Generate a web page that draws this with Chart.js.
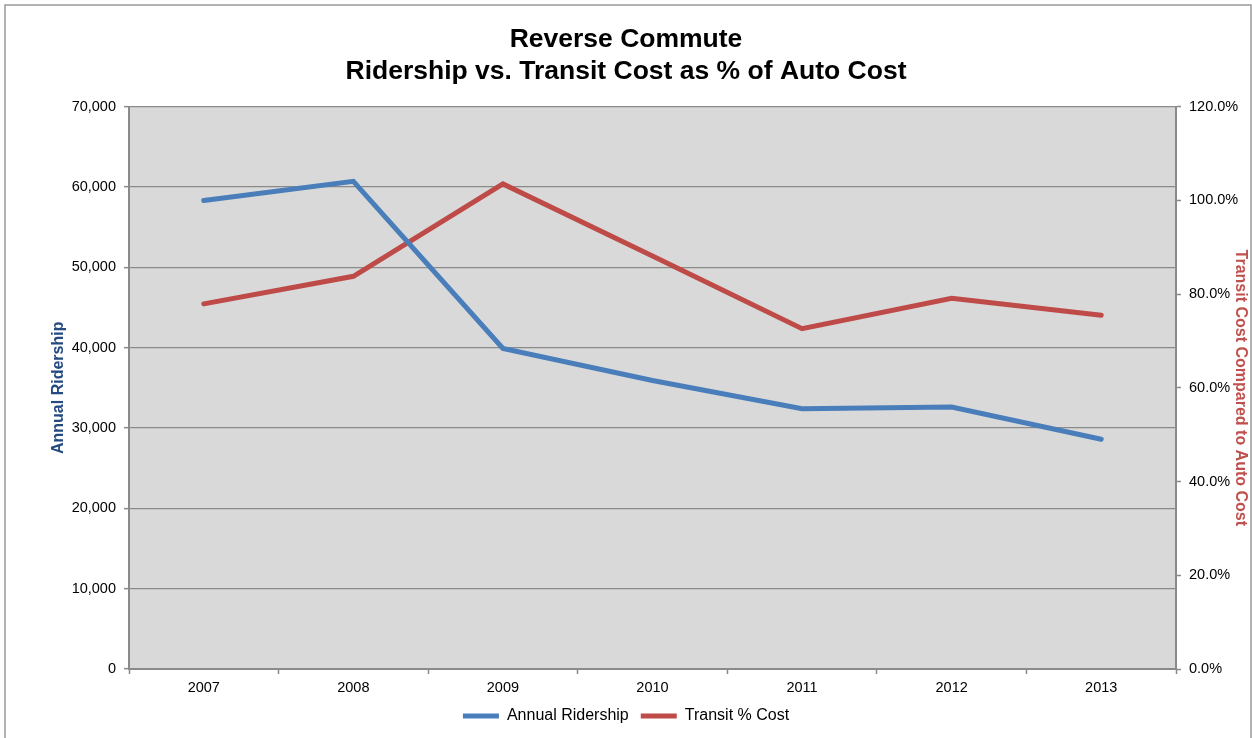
<!DOCTYPE html>
<html>
  <head>
    <meta charset="utf-8" />
    <title>Reverse Commute</title>
    <script src="https://cdn.jsdelivr.net/npm/chart.js"></script>
    <style>
      * {
        box-sizing: border-box;
        margin: 0;
        padding: 0;
      }
      body {
        background: #fff;
        font-family: "Liberation Sans", Arial, sans-serif;
      }
      #chart {
        display: block;
      }
    </style>
  </head>
  <body>
    <canvas id="chart" width="1252" height="738"></canvas>

    <script>
      // years on the x axis
      const years = ["2007", "2008", "2009", "2010", "2011", "2012", "2013"];
      // annual riders per year
      const ridership = [58300, 60700, 39900, 35900, 32400, 32600, 28600];
      // transit cost as % of auto cost
      const transitPctCost = [77.9, 83.8, 103.5, 88.1, 72.6, 79.1, 75.5];

      // axis ranges
      const riderMax = 70000;
      const riderStep = 10000;
      const pctMax = 120;
      const pctStep = 20;

      const titleLines = [
        "Reverse Commute",
        "Ridership vs. Transit Cost as % of Auto Cost",
      ];

      const FONT = '"Liberation Sans", Arial, sans-serif';
      const AXIS_GREY = "#8a8a8a";

      // grey plot background + outer frame
      const background = {
        id: "background",
        beforeDraw(chart) {
          const { ctx, chartArea: a } = chart;
          ctx.save();
          ctx.fillStyle = "#fff";
          ctx.fillRect(0, 0, chart.width, chart.height);
          ctx.fillStyle = "#d9d9d9";
          ctx.fillRect(a.left, a.top, a.right - a.left, a.bottom - a.top);
          ctx.strokeStyle = "#9a9a9a";
          ctx.lineWidth = 1.5;
          ctx.strokeRect(5, 5, chart.width - 6, chart.height + 20);
          ctx.restore();
        },
      };

      new Chart(document.getElementById("chart"), {
        type: "line",
        data: {
          labels: years,
          datasets: [
            {
              label: "Annual Ridership",
              data: ridership,
              yAxisID: "y",
              borderColor: "#4a7ebb",
              backgroundColor: "#4a7ebb",
              borderWidth: 5,
              borderCapStyle: "round",
              borderJoinStyle: "miter",
              pointRadius: 0,
              pointStyle: "line",
              tension: 0,
            },
            {
              label: "Transit % Cost",
              data: transitPctCost,
              yAxisID: "y1",
              borderColor: "#be4b48",
              backgroundColor: "#be4b48",
              borderWidth: 5,
              borderCapStyle: "round",
              borderJoinStyle: "miter",
              pointRadius: 0,
              pointStyle: "line",
              tension: 0,
            },
          ],
        },
        options: {
          responsive: false,
          animation: false,
          devicePixelRatio: 1,
          layout: { padding: { left: 0, right: 0, top: 0, bottom: 4 } },
          scales: {
            x: {
              offset: true,
              grid: {
                offset: true,
                drawOnChartArea: false,
                drawTicks: true,
                tickLength: 5,
                tickWidth: 1.5,
                tickColor: AXIS_GREY,
              },
              border: { display: true, color: AXIS_GREY, width: 2 },
              ticks: {
                color: "#000",
                padding: 5,
                maxRotation: 0,
                font: { family: FONT, size: 14.5 },
              },
              afterFit(scale) {
                scale.height = 27;
              },
            },
            y: {
              position: "left",
              min: 0,
              max: riderMax,
              grid: {
                color: AXIS_GREY,
                lineWidth: 1.3,
                drawTicks: true,
                tickLength: 5,
                tickWidth: 1.5,
                tickColor: AXIS_GREY,
              },
              border: { display: true, color: AXIS_GREY, width: 2 },
              ticks: {
                stepSize: riderStep,
                color: "#000",
                padding: 8,
                font: { family: FONT, size: 14.5 },
                callback: (v) => v.toLocaleString("en-US"),
              },
              title: {
                display: true,
                text: "Annual Ridership",
                color: "#244a80",
                font: { family: FONT, size: 16, weight: "bold" },
                padding: { top: 49, bottom: 0 },
              },
              afterFit(scale) {
                scale.width = 129;
              },
            },
            y1: {
              position: "right",
              min: 0,
              max: pctMax,
              grid: {
                drawOnChartArea: false,
                drawTicks: true,
                tickLength: 5,
                tickWidth: 1.5,
                tickColor: AXIS_GREY,
              },
              border: { display: true, color: AXIS_GREY, width: 2 },
              ticks: {
                stepSize: pctStep,
                color: "#000",
                padding: 8,
                font: { family: FONT, size: 14.5 },
                callback: (v) => v.toFixed(1) + "%",
              },
              title: {
                display: true,
                text: "Transit Cost Compared to Auto Cost",
                color: "#c0504d",
                font: { family: FONT, size: 16, weight: "bold" },
                padding: { top: 2, bottom: 0 },
              },
              afterFit(scale) {
                scale.width = 76;
              },
            },
          },
          plugins: {
            title: {
              display: true,
              text: titleLines,
              color: "#000",
              font: { family: FONT, size: 26.5, weight: "bold" },
              padding: { top: 23.5, bottom: 19.5 },
            },
            legend: {
              position: "bottom",
              labels: {
                usePointStyle: true,
                pointStyleWidth: 36,
                padding: 12,
                color: "#000",
                font: { family: FONT, size: 16 },
              },
            },
            tooltip: { enabled: false },
          },
        },
        plugins: [background],
      });
    </script>
  </body>
</html>
